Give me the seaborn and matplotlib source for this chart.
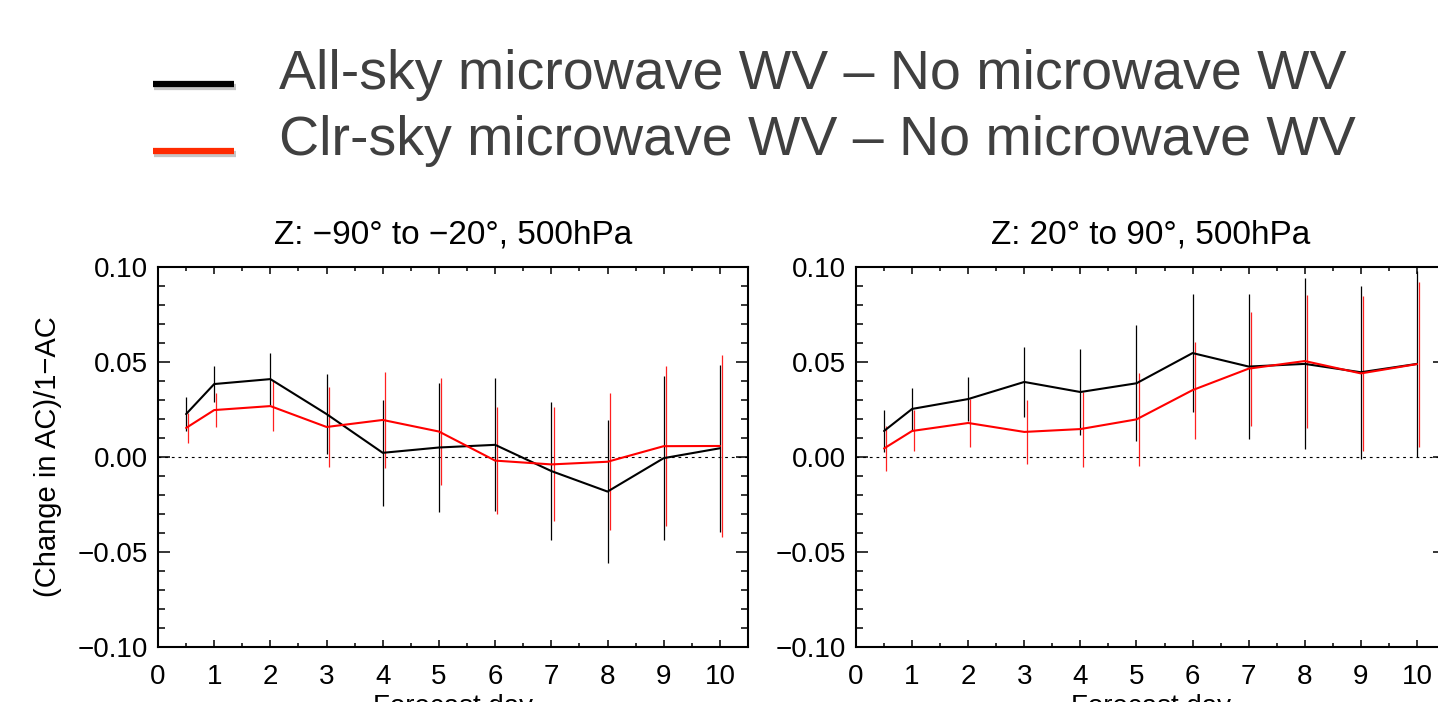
import numpy as np
import pandas as pd
import matplotlib
matplotlib.use("Agg")
import matplotlib.pyplot as plt
import matplotlib.patheffects as pe
from matplotlib.legend_handler import HandlerLine2D
from matplotlib.ticker import MultipleLocator, FuncFormatter
import seaborn as sns

# ---------------- data ----------------
days = [0.5, 1, 2, 3, 4, 5, 6, 7, 8, 9, 10]

series_names = ["All-sky microwave WV \u2013 No microwave WV",
                "Clr-sky microwave WV \u2013 No microwave WV"]

panel_titles = ["Z: \u221290\u00b0 to \u221220\u00b0, 500hPa",
                "Z: 20\u00b0 to 90\u00b0, 500hPa"]

# Left panel (-90 to -20)
sh_allsky = [0.0226, 0.0384, 0.0410, 0.0226, 0.0022, 0.0050, 0.0064, -0.0074, -0.0182, -0.0006, 0.0046]
sh_allsky_err = [0.0090, 0.0095, 0.0137, 0.0210, 0.0280, 0.0337, 0.0350, 0.0364, 0.0376, 0.0430, 0.0440]
sh_clrsky = [0.0153, 0.0247, 0.0268, 0.0158, 0.0195, 0.0134, -0.0019, -0.0039, -0.0025, 0.0057, 0.0058]
sh_clrsky_err = [0.0080, 0.0090, 0.0130, 0.0210, 0.0255, 0.0280, 0.0280, 0.0300, 0.0360, 0.0420, 0.0480]

# Right panel (20 to 90)
nh_allsky = [0.0137, 0.0253, 0.0305, 0.0395, 0.0342, 0.0388, 0.0547, 0.0476, 0.0490, 0.0446, 0.0490]
nh_allsky_err = [0.0113, 0.0110, 0.0118, 0.0185, 0.0226, 0.0305, 0.0310, 0.0380, 0.0450, 0.0455, 0.0490]
nh_clrsky = [0.0045, 0.0137, 0.0179, 0.0132, 0.0147, 0.0198, 0.0352, 0.0465, 0.0505, 0.0440, 0.0489]
nh_clrsky_err = [0.0120, 0.0108, 0.0126, 0.0170, 0.0197, 0.0245, 0.0255, 0.0300, 0.0350, 0.0406, 0.0434]

line_colors = ["#000000", "#ff0000"]
legend_colors = ["#000000", "#ff2a00"]

# ---------------- figure ----------------
sns.set_theme(style="ticks")
plt.rcParams["font.family"] = ["Liberation Sans", "DejaVu Sans"]

fig = plt.figure(figsize=(14.38, 7.02), dpi=100)
W, H = 1438, 702

def axrect(x0, x1, y0, y1):
    return [x0 / W, (H - y1) / H, (x1 - x0) / W, (y1 - y0) / H]

ax_l = fig.add_axes(axrect(158, 748, 267, 647))
ax_r = fig.add_axes(axrect(856, 1445, 267, 647))

panels = [
    (ax_l, panel_titles[0], sh_allsky, sh_allsky_err, sh_clrsky, sh_clrsky_err, True),
    (ax_r, panel_titles[1], nh_allsky, nh_allsky_err, nh_clrsky, nh_clrsky_err, False),
]

yfmt = FuncFormatter(lambda v, p: f"{v:.2f}".replace("-", "\u2212") if abs(v) > 1e-9 else "0.00")

for ax, title, a, ae, c, ce, first in panels:
    df = pd.DataFrame({
        "day": days * 2,
        "value": a + c,
        "series": [series_names[0]] * len(days) + [series_names[1]] * len(days),
    })
    # error bars
    ax.vlines(np.array(days), np.array(a) - np.array(ae), np.array(a) + np.array(ae),
              color="#000000", lw=0.9, zorder=2)
    ax.vlines(np.array(days) + 0.04, np.array(c) - np.array(ce), np.array(c) + np.array(ce),
              color="#ff2020", lw=0.9, zorder=2)
    sns.lineplot(data=df, x="day", y="value", hue="series", palette=line_colors,
                 ax=ax, legend=False, errorbar=None, lw=1.5, zorder=3)
    ax.axhline(0.0, color="black", lw=0.8, ls=(0, (2.5, 3.5)), zorder=1)

    ax.set_xlim(0, 10.5)
    ax.set_ylim(-0.10, 0.10)
    ax.xaxis.set_major_locator(MultipleLocator(1))
    ax.xaxis.set_minor_locator(MultipleLocator(0.5))
    ax.yaxis.set_major_locator(MultipleLocator(0.05))
    ax.yaxis.set_minor_locator(MultipleLocator(0.01))
    ax.yaxis.set_major_formatter(yfmt)
    ax.tick_params(which="both", direction="in", top=True, right=True, width=1.1,
                   colors="black", labelsize=20)
    ax.tick_params(axis="x", which="major", length=5, pad=12)
    ax.tick_params(axis="x", which="minor", length=3)
    ax.tick_params(axis="y", which="major", length=8.6, pad=7)
    ax.tick_params(axis="y", which="minor", length=5)
    for s in ax.spines.values():
        s.set_linewidth(1.5)
        s.set_color("black")
    ax.set_title(title, fontsize=24, pad=17, color="black")
    ax.set_xlabel("Forecast day", fontsize=20, color="black")
    ax.xaxis.set_label_coords(0.5, -0.123)
    if first:
        ax.set_ylabel("(Change in AC)/1\u2212AC", fontsize=21, color="black")
        ax.yaxis.set_label_coords(-0.163, 0.5)
    else:
        ax.set_ylabel("")


class LowLine(HandlerLine2D):
    def create_artists(self, legend, orig_handle, xdescent, ydescent, width, height,
                       fontsize, trans):
        arts = super().create_artists(legend, orig_handle, xdescent, ydescent, width,
                                      height, fontsize, trans)
        for art in arts:
            art.set_ydata(np.asarray(art.get_ydata()) - 0.27 * fontsize)
        return arts


# legend at top
handles = [plt.Line2D([], [], color=col, lw=4.5, solid_capstyle="butt",
                      path_effects=[pe.SimpleLineShadow(offset=(1, -2), alpha=0.25),
                                    pe.Normal()])
           for col in legend_colors]
leg = fig.legend(handles, series_names, loc="upper left", bbox_to_anchor=(125 / W, 1 - 21 / H),
                 frameon=False, fontsize=40, handlelength=1.47, handletextpad=0.8,
                 labelspacing=0.26, borderpad=0,
                 handler_map={h: LowLine() for h in handles})
for t in leg.get_texts():
    t.set_color("#404040")

fig.savefig("out.png", dpi=100)
